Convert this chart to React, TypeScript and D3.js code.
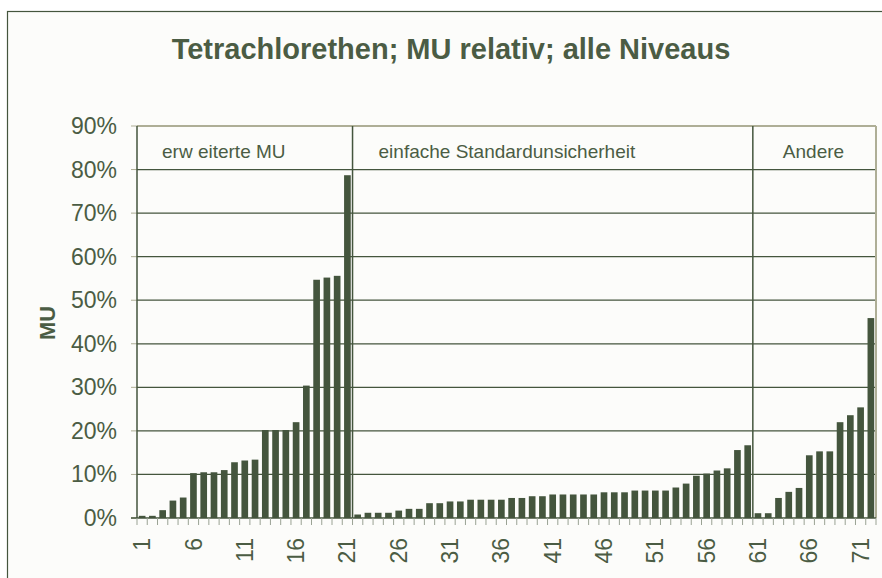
import React from "react";
import * as d3 from "d3";

const title = "Tetrachlorethen; MU relativ; alle Niveaus";
const yAxisTitle = "MU";
const sectionLabels = ["erw eiterte MU", "einfache Standardunsicherheit", "Andere"];

// values in percent
const erweiterteMU = [0.5, 0.5, 1.8, 4.0, 4.7, 10.3, 10.5, 10.5, 11.0, 12.8, 13.2, 13.4, 20.2, 20.2, 20.2, 22.0, 30.4, 54.7, 55.2, 55.6, 78.7];
const einfacheStandard = [0.8, 1.2, 1.2, 1.2, 1.7, 2.1, 2.1, 3.4, 3.4, 3.8, 3.8, 4.2, 4.2, 4.2, 4.2, 4.6, 4.6, 5.0, 5.0, 5.4, 5.4, 5.4, 5.4, 5.4, 5.9, 5.9, 5.9, 6.3, 6.3, 6.3, 6.3, 7.0, 7.9, 9.7, 10.2, 10.9, 11.4, 15.6, 16.7];
const andere = [1.1, 1.1, 4.6, 6.0, 6.9, 14.4, 15.3, 15.3, 22.0, 23.6, 25.4, 45.9];
const yTicks = [0, 10, 20, 30, 40, 50, 60, 70, 80, 90];

const values = [...erweiterteMU, ...einfacheStandard, ...andere];
const categories = values.map((_, i) => String(i + 1));
const sections = [erweiterteMU, einfacheStandard, andere];

const W = 882, H = 578;
const left = 137, right = 876, top = 126, bottom = 518;
const dark = "#44553d";
const textCol = "#4b5c44";
const khaki = "#aeae96";

export default function App() {
  const x = d3.scaleBand().domain(categories).range([left, right]).paddingInner(0.35).paddingOuter(0.175);
  const y = d3.scaleLinear().domain([0, 90]).range([bottom, top]);
  const step = x.step();
  const bx = (i: number) => left + i * step; // category boundary

  let acc = 0;
  const secBounds = sections.map((s) => {
    const start = acc;
    acc += s.length;
    return [start, acc];
  });

  return (
    <svg width={W} height={H} style={{ position: "absolute", left: 0, top: 0, fontFamily: "'Liberation Sans', Arial, sans-serif" }}>
      <rect x={0} y={0} width={W} height={H} fill="#ffffff" />
      <rect x={7.5} y={11.5} width={W} height={H} fill="#fcfcfa" stroke={dark} strokeWidth={1.2} />
      <text x={451} y={59} textAnchor="middle" fontSize={29} fontWeight="bold" fill={textCol}>{title}</text>

      {/* gridlines */}
      {yTicks.filter((t) => t > 0 && t < 90).map((t) => (
        <line key={"g" + t} x1={left} x2={right} y1={y(t)} y2={y(t)} stroke={dark} strokeWidth={1.3} />
      ))}
      {/* top and right borders */}
      <line x1={left} x2={right} y1={y(90)} y2={y(90)} stroke={khaki} strokeWidth={2} />
      <line x1={right} x2={right} y1={y(90)} y2={bottom} stroke={khaki} strokeWidth={2} />

      {/* y ticks and labels */}
      {yTicks.map((t) => (
        <g key={"y" + t}>
          <line x1={131} x2={left} y1={y(t)} y2={y(t)} stroke={khaki} strokeWidth={1} />
          <text x={117} y={y(t)} dy="0.35em" textAnchor="end" fontSize={23} fill={textCol}>{t}%</text>
        </g>
      ))}
      <text transform={`translate(47,323) rotate(-90)`} textAnchor="middle" dy="0.35em" fontSize={22} fontWeight="bold" fill={textCol}>{yAxisTitle}</text>

      {/* bars */}
      {values.map((v, i) => (
        <rect key={"b" + i} x={x(categories[i])} width={x.bandwidth()} y={y(v)} height={bottom - y(v)} fill={dark} />
      ))}

      {/* section dividers */}
      {secBounds.slice(1).map(([s]) => (
        <line key={"d" + s} x1={bx(s)} x2={bx(s)} y1={top} y2={bottom} stroke={dark} strokeWidth={1.5} />
      ))}
      {secBounds.map(([s], k) => (
        <text key={"sl" + k} x={bx(s) + (k === 0 ? 25 : k === 1 ? 26 : 30)} y={158} fontSize={19} fill={textCol}>{sectionLabels[k]}</text>
      ))}

      {/* axes */}
      <line x1={left} x2={left} y1={top} y2={bottom} stroke={dark} strokeWidth={1.5} />
      <line x1={131} x2={right} y1={bottom} y2={bottom} stroke={dark} strokeWidth={1.5} />
      {categories.map((c, i) => (
        <line key={"t" + i} x1={bx(i + 1)} x2={bx(i + 1)} y1={bottom} y2={bottom + 7} stroke="#9aa294" strokeWidth={1} />
      ))}
      <line x1={left} x2={left} y1={bottom} y2={bottom + 7} stroke="#9aa294" strokeWidth={1} />
      {categories.filter((_, i) => i % 5 === 0).map((c) => (
        <text key={"xl" + c} transform={`translate(${(x(c) as number) + x.bandwidth() / 2},538) rotate(-90)`} textAnchor="end" dy="0.35em" fontSize={23} fill={textCol}>{c}</text>
      ))}
    </svg>
  );
}
